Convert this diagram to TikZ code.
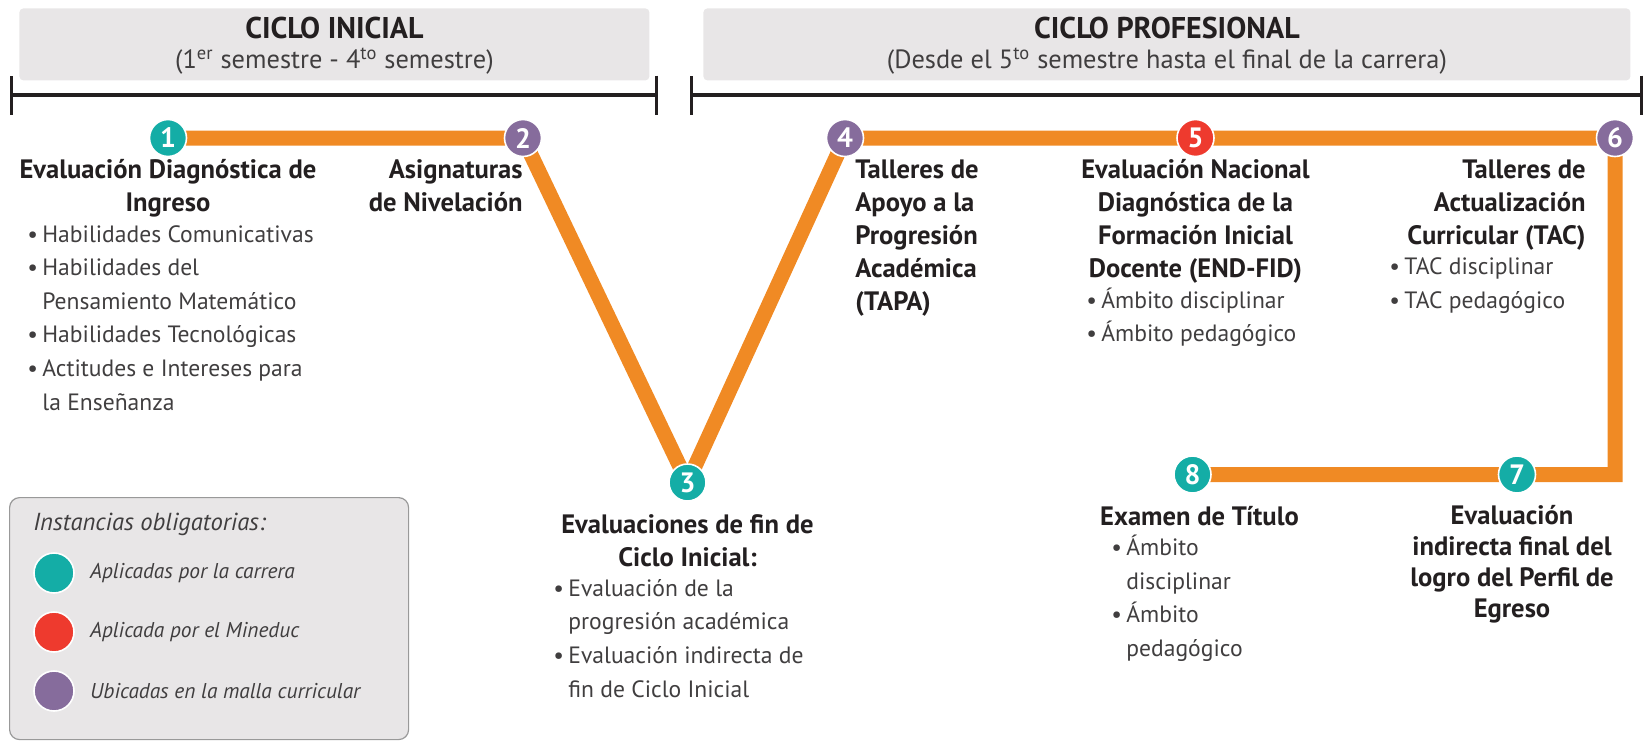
\documentclass[tikz,border=0pt]{standalone}
\usepackage{fontspec}
\setmainfont{PT Sans}
\usepackage{xcolor}
\usepackage{tikz}
\usetikzlibrary{positioning,arrows.meta,backgrounds}
\definecolor{tealdot}{RGB}{20,173,166}
\definecolor{reddot}{RGB}{238,58,46}
\definecolor{purpledot}{RGB}{134,108,156}
\definecolor{trackcolor}{RGB}{240,138,36}
\definecolor{boxgray}{RGB}{232,230,231}
\definecolor{ink}{RGB}{35,31,32}
\definecolor{softink}{RGB}{64,62,63}
\newcommand{\itm}{\strut\makebox[7.5pt][l]{\textbullet}}
\newcommand{\cont}{\strut\hspace*{7.5pt}}
\tikzset{
    stage/.style={circle, draw=white, line width=0.8pt, minimum size=18.5pt, inner sep=0pt, text=white, font=\fontsize{14}{14}\selectfont\bfseries},
    carrera/.style={stage, fill=tealdot},
    mineduc/.style={stage, fill=reddot},
    malla/.style={stage, fill=purpledot},
    track/.style={line width=7.5pt, trackcolor, line join=miter},
    title text/.style={inner sep=0pt, text=ink, font=\fontsize{13.3}{16.5}\selectfont\bfseries, execute at begin node=\strut, execute at end node=\strut},
    bullet text/.style={inner sep=0pt, text=softink, align=left, font=\fontsize{11.8}{16.8}\selectfont},
    cycle box/.style={rectangle, fill=boxgray, rounded corners=2pt, inner sep=0pt, anchor=north west},
    cycle title/.style={inner sep=0pt, anchor=base, text=ink, font=\fontsize{15}{17}\selectfont\bfseries},
    cycle sub/.style={inner sep=0pt, anchor=base, text=softink, font=\fontsize{13.2}{15}\selectfont},
    timeline/.style={{Bar[width=19.5pt]}-{Bar[width=19.5pt]}, line width=1.6pt, ink},
    legend frame/.style={rectangle, rounded corners=5pt, fill=boxgray, draw=gray!80, line width=0.6pt, inner sep=0pt, anchor=north west},
    legend text/.style={inner sep=0pt, text=softink, font=\fontsize{10.7}{13}\selectfont\itshape}
}

\begin{document}
\begin{tikzpicture}[x=0.5pt, y=-0.5pt]
\useasboundingbox (0,0) rectangle (1646,740);

% ciclos
\node[cycle box, minimum width=315pt, minimum height=36pt] (box1) at (19,8) {};
\node[cycle box, minimum width=463.5pt, minimum height=36pt] (box2) at (703,8) {};
\node[cycle title] (h1) at ([yshift=-15pt]box1.north) {CICLO INICIAL};
\node[cycle sub] (s1) at ([yshift=-30pt]box1.north) {(1\textsuperscript{er} semestre - 4\textsuperscript{to} semestre)};
\node[cycle title] (h2) at ([yshift=-15pt]box2.north) {CICLO PROFESIONAL};
\node[cycle sub] (s2) at ([yshift=-30pt]box2.north) {(Desde el 5\textsuperscript{to} semestre hasta el final de la carrera)};

\coordinate (ini a) at (10,95);
\coordinate (ini b) at (658,95);
\coordinate (pro a) at (690,95);
\coordinate (pro b) at (1643,95);
\draw[timeline] (ini a) -- (ini b);
\draw[timeline] (pro a) -- (pro b);

% instancias
\node[carrera] (c1) at (168,138) {1};
\node[malla] (c2) at (523,138) {2};
\node[carrera] (c3) at (687.5,482.5) {3};
\node[malla] (c4) at (845,138) {4};
\node[mineduc] (c5) at (1195.5,138) {5};
\node[malla] (c6) at (1615,138) {6};
\node[carrera] (c7) at (1517,474.5) {7};
\node[carrera] (c8) at (1192.5,474.5) {8};

\begin{scope}[on background layer]
\draw[track] (c1.center) -- (c2.center) -- (c3.center) -- (c4.center) -- (c5.center) -- (c6.center) |- (c7.center) -- (c8.center);
\end{scope}

\node[title text, align=center, below=1pt of c1] (t1) {Evaluación Diagnóstica de\\Ingreso};
\coordinate (a1) at (t1.south -| 27,0);
\node[bullet text, below right=-2pt and 0pt of a1] (l1) {\itm Habilidades Comunicativas\\ \itm Habilidades del\\ \cont Pensamiento Matemático\\ \itm Habilidades Tecnológicas\\ \itm Actitudes e Intereses para\\ \cont la Enseñanza};

\node[title text, align=right, anchor=north east] (t2) at ([yshift=-1pt]c2.south) {Asignaturas\\de Nivelación};

\node[title text, align=center, below=6pt of c3] (t3) {Evaluaciones de fin de\\Ciclo Inicial:};
\coordinate (a3) at (t3.south -| 553,0);
\node[bullet text, below right=-2pt and 0pt of a3] (l3) {\itm Evaluación de la\\ \cont progresión académica\\ \itm Evaluación indirecta de\\ \cont fin de Ciclo Inicial};

\node[title text, align=left, anchor=north west] (t4) at ([xshift=5pt,yshift=-1pt]c4.south) {Talleres de\\Apoyo a la\\Progresión\\Académica\\(TAPA)};

\node[title text, align=center, below=1pt of c5] (t5) {Evaluación Nacional\\Diagnóstica de la\\Formación Inicial\\Docente (END-FID)};
\coordinate (a5) at (t5.south -| 1086,0);
\node[bullet text, below right=-2pt and 0pt of a5] (l5) {\itm Ámbito disciplinar\\ \itm Ámbito pedagógico};

\node[title text, align=right, anchor=north east] (t6) at ([xshift=-14.5pt,yshift=-1pt]c6.south) {Talleres de\\Actualización\\Curricular (TAC)};
\coordinate (a6) at (t6.south -| 1389,0);
\node[bullet text, below right=-2pt and 0pt of a6] (l6) {\itm TAC disciplinar\\ \itm TAC pedagógico};

\node[title text, align=center, font=\fontsize{13.3}{15.5}\selectfont\bfseries, anchor=north] (t7) at ([xshift=-2.5pt,yshift=-5.5pt]c7.south) {Evaluación\\indirecta final del\\logro del Perfil de\\Egreso};

\node[title text, anchor=north] (t8) at ([xshift=3.5pt,yshift=-4pt]c8.south) {Examen de Título};
\coordinate (a8) at (t8.south -| 1111,0);
\node[bullet text, below right=-2pt and 0pt of a8] (l8) {\itm Ámbito\\ \cont disciplinar\\ \itm Ámbito\\ \cont pedagógico};

% leyenda
\node[legend frame, minimum width=199.5pt, minimum height=121pt] (legend) at (9,497) {};
\node[legend text, font=\fontsize{12.3}{14}\selectfont\itshape, anchor=base west] (lgtitle) at (33,530) {Instancias obligatorias:};
\node[carrera, minimum size=20pt] (k1) at (54,573) {};
\node[mineduc, minimum size=20pt] (k2) at (54,632) {};
\node[malla, minimum size=20pt] (k3) at (54,691) {};
\node[legend text, right=7.5pt of k1] (lk1) {Aplicadas por la carrera};
\node[legend text, right=7.5pt of k2] (lk2) {Aplicada por el Mineduc};
\node[legend text, right=7.5pt of k3] (lk3) {Ubicadas en la malla curricular};
\end{tikzpicture}
\end{document}
